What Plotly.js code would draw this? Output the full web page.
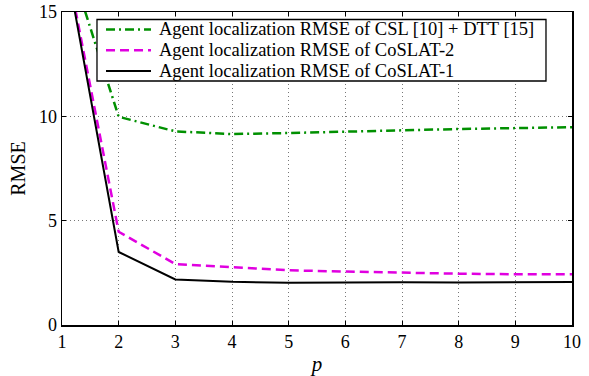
<!DOCTYPE html>
<html><head><meta charset="utf-8">
<script src="https://cdn.plot.ly/plotly-3.0.1.min.js"></script>
<style>body{margin:0;background:#fff}#c{width:589px;height:376px}</style>
</head><body><div id="c"></div>
<script>
const p = [1,2,3,4,5,6,7,8,9,10];
const rmseCSL = [18.5,9.98,9.28,9.15,9.2,9.28,9.33,9.39,9.45,9.48];
const rmseCoSLAT2 = [18.4,4.47,2.92,2.76,2.62,2.56,2.5,2.46,2.43,2.43];
const rmseCoSLAT1 = [18.4,3.5,2.18,2.07,2.03,2.05,2.05,2.04,2.04,2.06];
const names = ['Agent localization RMSE of CSL [10] + DTT [15]','Agent localization RMSE of CoSLAT-2','Agent localization RMSE of CoSLAT-1'];
const xTicks = [1,2,3,4,5,6,7,8,9,10];
const yTicks = [0,5,10,15];
const F = "'Liberation Serif', 'Times New Roman', serif";
const styles = [
 {color:'#009000',width:2.5,dash:'9px,4px,2px,4px'},
 {color:'#e000e0',width:2.5,dash:'9px,5px'},
 {color:'#000000',width:2}
];
const series = [rmseCSL, rmseCoSLAT2, rmseCoSLAT1];
const traces = series.map((s,i)=>({x:p,y:s,name:names[i],mode:'lines',line:styles[i],showlegend:false}));
const ax = {showline:true,linecolor:'#000',linewidth:1.5,mirror:'ticks',ticks:'inside',ticklen:4,tickcolor:'#000',
  showgrid:true,gridcolor:'#777',griddash:'1px,3px',gridwidth:1,zeroline:false,tickfont:{family:F,size:18,color:'#000'}};
// custom legend (paper coords relative to plot area)
const lg = {x0:0.0686,x1:0.949,y0:0.7796,y1:0.9760,sx0:0.0863,sx1:0.1745,tx:0.1882,rows:[0.9441,0.8776,0.8112]};
const shapes = [{type:'rect',xref:'paper',yref:'paper',x0:lg.x0,x1:lg.x1,y0:lg.y0,y1:lg.y1,fillcolor:'#fff',line:{color:'#000',width:1.3},layer:'above'}];
const annotations = [];
names.forEach((n,i)=>{
  shapes.push({type:'line',xref:'paper',yref:'paper',x0:lg.sx0,x1:lg.sx1,y0:lg.rows[i],y1:lg.rows[i],line:styles[i],layer:'above'});
  annotations.push({xref:'paper',yref:'paper',x:lg.tx,y:lg.rows[i],xanchor:'left',yanchor:'middle',showarrow:false,text:n,font:{family:F,size:18.5,color:'#000'},borderpad:0});
});
const layout = {
 width:589,height:376,margin:{l:62,r:17,t:12,b:51},paper_bgcolor:'#fff',plot_bgcolor:'#fff',
 font:{family:F,color:'#000'},showlegend:false,shapes:shapes,annotations:annotations,
 xaxis:Object.assign({},ax,{range:[1,10],tickvals:xTicks,title:{text:'<i>p</i>',font:{family:F,size:21},standoff:6}}),
 yaxis:Object.assign({},ax,{range:[0,15],tickvals:yTicks,title:{text:'RMSE',font:{family:F,size:20},standoff:8}})
};
Plotly.newPlot('c',traces,layout,{displayModeBar:false,staticPlot:true});
</script></body></html>
